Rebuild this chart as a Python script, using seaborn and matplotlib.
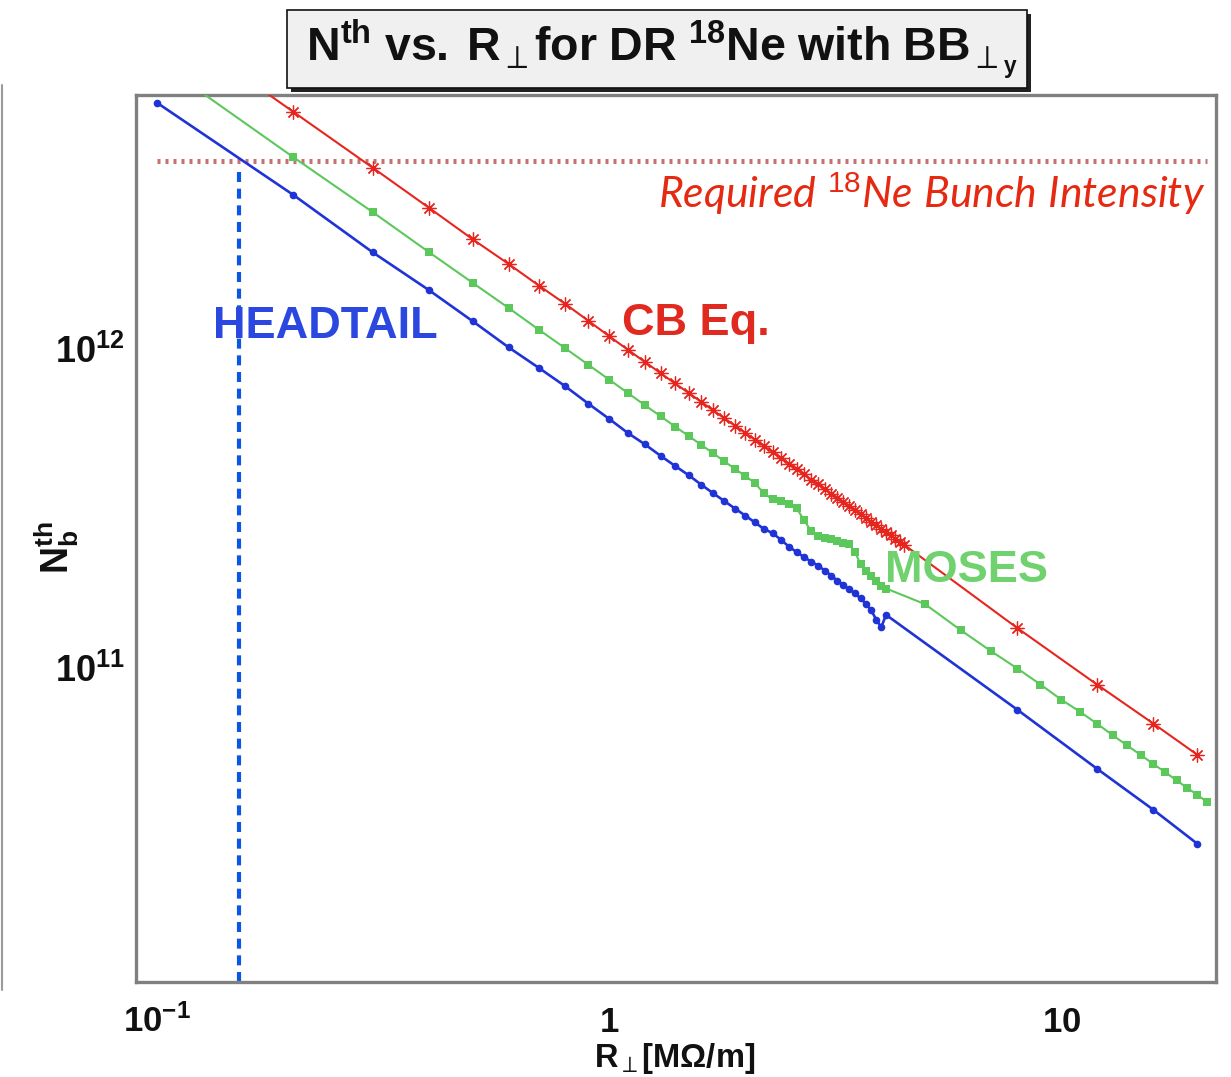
import matplotlib
matplotlib.use("Agg")
import matplotlib.pyplot as plt
import matplotlib.transforms as mtrans
from matplotlib.patches import Rectangle
from matplotlib.lines import Line2D
from matplotlib.ticker import FixedLocator, NullFormatter, LogLocator
import numpy as np
import pandas as pd
import seaborn as sns

# ---------------- data ----------------
R_BASE = [0.1, 0.2, 0.3, 0.4, 0.5, 0.6, 0.7, 0.8, 0.9, 1.0,
          1.1, 1.2, 1.3, 1.4, 1.5, 1.6, 1.7, 1.8, 1.9, 2.0,
          2.1, 2.2, 2.3, 2.4, 2.5, 2.6, 2.7, 2.8, 2.9, 3.0,
          3.1, 3.2, 3.3, 3.4, 3.5, 3.6, 3.7, 3.8, 3.9, 4.0, 4.1]

headtail_R = R_BASE + [8.0, 12.0, 16.0, 20.0]
headtail_N = [5.77e12, 2.97e12, 1.96e12, 1.49e12, 1.19e12, 9.86e11, 8.50e11, 7.45e11, 6.57e11, 5.89e11,
              5.32e11, 4.90e11, 4.51e11, 4.19e11, 3.92e11, 3.66e11, 3.44e11, 3.25e11, 3.08e11, 2.93e11,
              2.79e11, 2.66e11, 2.58e11, 2.46e11, 2.34e11, 2.25e11, 2.17e11, 2.10e11, 2.04e11, 1.97e11,
              1.90e11, 1.83e11, 1.77e11, 1.72e11, 1.67e11, 1.61e11, 1.55e11, 1.48e11, 1.38e11, 1.31e11, 1.43e11,
              7.21e10, 4.71e10, 3.50e10, 2.74e10]

moses_R = R_BASE + [5.0, 6.0, 7.0, 8.0, 9.0, 10.0, 11.0, 12.0, 13.0, 14.0,
                    15.0, 16.0, 17.0, 18.0, 19.0, 20.0, 21.0]
moses_N = [7.80e12, 3.90e12, 2.62e12, 1.96e12, 1.57e12, 1.31e12, 1.12e12, 9.80e11, 8.70e11, 7.82e11,
           7.10e11, 6.50e11, 6.00e11, 5.57e11, 5.20e11, 4.88e11, 4.59e11, 4.33e11, 4.10e11, 3.90e11,
           3.71e11, 3.44e11, 3.29e11, 3.25e11, 3.18e11, 3.09e11, 2.83e11, 2.62e11, 2.53e11, 2.50e11,
           2.47e11, 2.44e11, 2.41e11, 2.39e11, 2.25e11, 2.06e11, 1.96e11, 1.89e11, 1.82e11, 1.76e11, 1.73e11,
           1.545e11, 1.28e11, 1.10e11, 9.71e10, 8.65e10, 7.76e10, 7.11e10, 6.52e10, 6.00e10, 5.57e10,
           5.20e10, 4.87e10, 4.59e10, 4.33e10, 4.10e10, 3.90e10, 3.71e10]

cbeq_R = R_BASE + [4.2, 4.3, 4.4, 4.5, 8.0, 12.0, 16.0, 20.0]
cbeq_N = [1.08e13, 5.41e12, 3.61e12, 2.70e12, 2.15e12, 1.80e12, 1.54e12, 1.35e12, 1.195e12, 1.07e12,
          9.70e11, 8.88e11, 8.19e11, 7.60e11, 7.10e11, 6.65e11, 6.26e11, 5.91e11, 5.60e11, 5.32e11,
          5.07e11, 4.84e11, 4.63e11, 4.44e11, 4.26e11, 4.09e11, 3.94e11, 3.80e11, 3.67e11, 3.55e11,
          3.43e11, 3.33e11, 3.22e11, 3.13e11, 3.04e11, 2.96e11, 2.88e11, 2.80e11, 2.73e11, 2.66e11, 2.60e11,
          2.54e11, 2.48e11, 2.42e11, 2.37e11,
          1.30e11, 8.65e10, 6.52e10, 5.21e10]

required_N = 3.8e12
required_R_span = [0.1, 21.0]
headtail_limit_R = 0.152
headtail_limit_N_top = 3.5e12

x_major = [0.1, 1.0, 10.0]
x_major_labels = [r"$\mathbf{10^{-1}}$", r"$\mathbf{1}$", r"$\mathbf{10}$"]
y_major = [1e11, 1e12]
y_major_labels = [r"$\mathbf{10^{11}}$", r"$\mathbf{10^{12}}$"]

title_text = (r"$\mathbf{N^{th}\ vs.\;R_{\mathsf{\perp}}for\ DR\ {}^{18}Ne\ with\ "
              r"BB_{\mathsf{\perp}_{y}}}$")
xlabel_text = r"$\mathbf{R_{\mathsf{\perp}}[M\Omega/m]}$"
ylabel_text = r"$\mathbf{N_{b}^{th}}$"
required_text = r"$\mathit{Required\ {}^{18}Ne\ Bunch\ Intensity}$"

# ---------------- style ----------------
sns.set_style("white")
plt.rcParams["font.family"] = ["Liberation Sans", "DejaVu Sans"]
plt.rcParams["mathtext.fontset"] = "custom"
plt.rcParams["mathtext.rm"] = "Liberation Sans"
plt.rcParams["mathtext.bf"] = "Liberation Sans:bold"
plt.rcParams["mathtext.it"] = "Lato:italic"
plt.rcParams["mathtext.sf"] = "DejaVu Sans:bold"

BLUE = "#1f33d6"
GREEN = "#5cc85c"
RED = "#e6261e"

W, H = 1231, 1077
fig = plt.figure(figsize=(W / 100, H / 100), dpi=100)
fig.patch.set_facecolor("white")
ax = fig.add_axes([136 / W, 1 - 982 / H, (1216 - 136) / W, (982 - 95) / H])
ax.set_facecolor("white")

df_b = pd.DataFrame({"R": headtail_R, "N": headtail_N})
df_g = pd.DataFrame({"R": moses_R, "N": moses_N})
df_r = pd.DataFrame({"R": cbeq_R, "N": cbeq_N})

sns.lineplot(data=df_b, x="R", y="N", ax=ax, color=BLUE, lw=1.9, marker="o",
             markersize=5.5, markeredgewidth=0, errorbar=None, sort=False, zorder=3)
sns.lineplot(data=df_g, x="R", y="N", ax=ax, color=GREEN, lw=1.5, marker="s",
             markersize=6, markeredgewidth=0, errorbar=None, sort=False, zorder=3)
sns.lineplot(data=df_r, x="R", y="N", ax=ax, color=RED, lw=1.5, marker=(8, 2, 0),
             markersize=10, markeredgewidth=0.9, markeredgecolor=RED, errorbar=None,
             sort=False, zorder=3)

ax.set_xscale("log")
ax.set_yscale("log")
ax.set_xlim(0.0899, 22.0)
ax.set_ylim(1.01e10, 6.1e12)

# reference lines
ax.hlines(required_N, required_R_span[0], required_R_span[1], colors="#c47272",
          linestyles=(0, (0.6, 1.0)), lw=3.6, zorder=2)
ax.vlines(headtail_limit_R, 1.01e10, headtail_limit_N_top, colors="#0a58e0",
          linestyles=(0, (2.4, 1.6)), lw=3.0, zorder=2)

ax.set_xlabel("")
ax.set_ylabel("")

# ticks
ax.xaxis.set_major_locator(FixedLocator(x_major))
ax.xaxis.set_minor_locator(LogLocator(base=10, subs=np.arange(2, 10) * 1.0, numticks=30))
ax.yaxis.set_major_locator(FixedLocator(y_major))
ax.yaxis.set_minor_locator(LogLocator(base=10, subs=np.arange(2, 10) * 1.0, numticks=30))
for axis in (ax.xaxis, ax.yaxis):
    axis.set_major_formatter(NullFormatter())
    axis.set_minor_formatter(NullFormatter())
ax.tick_params(which="both", direction="in", top=False, right=False, colors="#555555")
ax.tick_params(axis="x", which="major", length=18, width=1.6)
ax.tick_params(axis="x", which="minor", length=9, width=1.4)
ax.tick_params(axis="y", which="major", length=24.5, width=1.6)
ax.tick_params(axis="y", which="minor", length=11.5, width=1.4)

for s in ax.spines.values():
    s.set_visible(True)
    s.set_color("#808080")
    s.set_linewidth(2.4)

# tick labels
xtr = mtrans.offset_copy(ax.get_xaxis_transform(), fig=fig, x=0, y=-50, units="dots")
for v, s in zip(x_major, x_major_labels):
    ax.text(v, 0, s, transform=xtr, ha="center", va="baseline", fontsize=25, color="#111111")
ytr = mtrans.offset_copy(ax.get_yaxis_transform(), fig=fig, x=-11, y=-18, units="dots")
for v, s in zip(y_major, y_major_labels):
    ax.text(0, v, s, transform=ytr, ha="right", va="baseline", fontsize=26, color="#111111")

# axis titles
fig.text(675 / W, 1 - 1067 / H, xlabel_text, ha="center", va="baseline", fontsize=23.5, color="#111111")
fig.text(57 / W, 1 - 548 / H, ylabel_text, ha="center", va="center", rotation=90,
         fontsize=27, color="#111111")

# annotations
fig.text(213 / W, 1 - 338 / H, r"HEADTAIL", fontsize=32.5, fontweight="bold",
         color="#2a48e0", ha="left", va="baseline", zorder=1)
fig.text(622 / W, 1 - 335 / H, r"CB Eq.", fontsize=32.5, fontweight="bold",
         color="#e02a20", ha="left", va="baseline", zorder=1)
fig.text(885 / W, 1 - 582 / H, r"MOSES", fontsize=32.5, fontweight="bold",
         color="#6fd26f", ha="left", va="baseline", zorder=1)
fig.text(1205 / W, 1 - 208 / H, required_text, fontsize=30.8, color="#e62a12",
         ha="right", va="baseline")

# title box with shadow
fig.add_artist(Rectangle((291 / W, 1 - 92 / H), (1027 - 287) / W, (88 - 10) / H,
                         transform=fig.transFigure, facecolor="#222222", edgecolor="none", zorder=5))
fig.add_artist(Rectangle((287 / W, 1 - 88 / H), (1027 - 287) / W, (88 - 10) / H,
                         transform=fig.transFigure, facecolor="#f0f0f0", edgecolor="#111111",
                         lw=1.2, zorder=6))
fig.text(662 / W, 1 - 49 / H, title_text, ha="center", va="center", fontsize=33.5,
         color="#111111", zorder=7)

# left border remnant of the original image
fig.add_artist(Line2D([1.5 / W, 1.5 / W], [1 - 85 / H, 1 - 990 / H], transform=fig.transFigure,
                      color="#9a9a9a", lw=1.5))

fig.savefig("out.png", dpi=100)
